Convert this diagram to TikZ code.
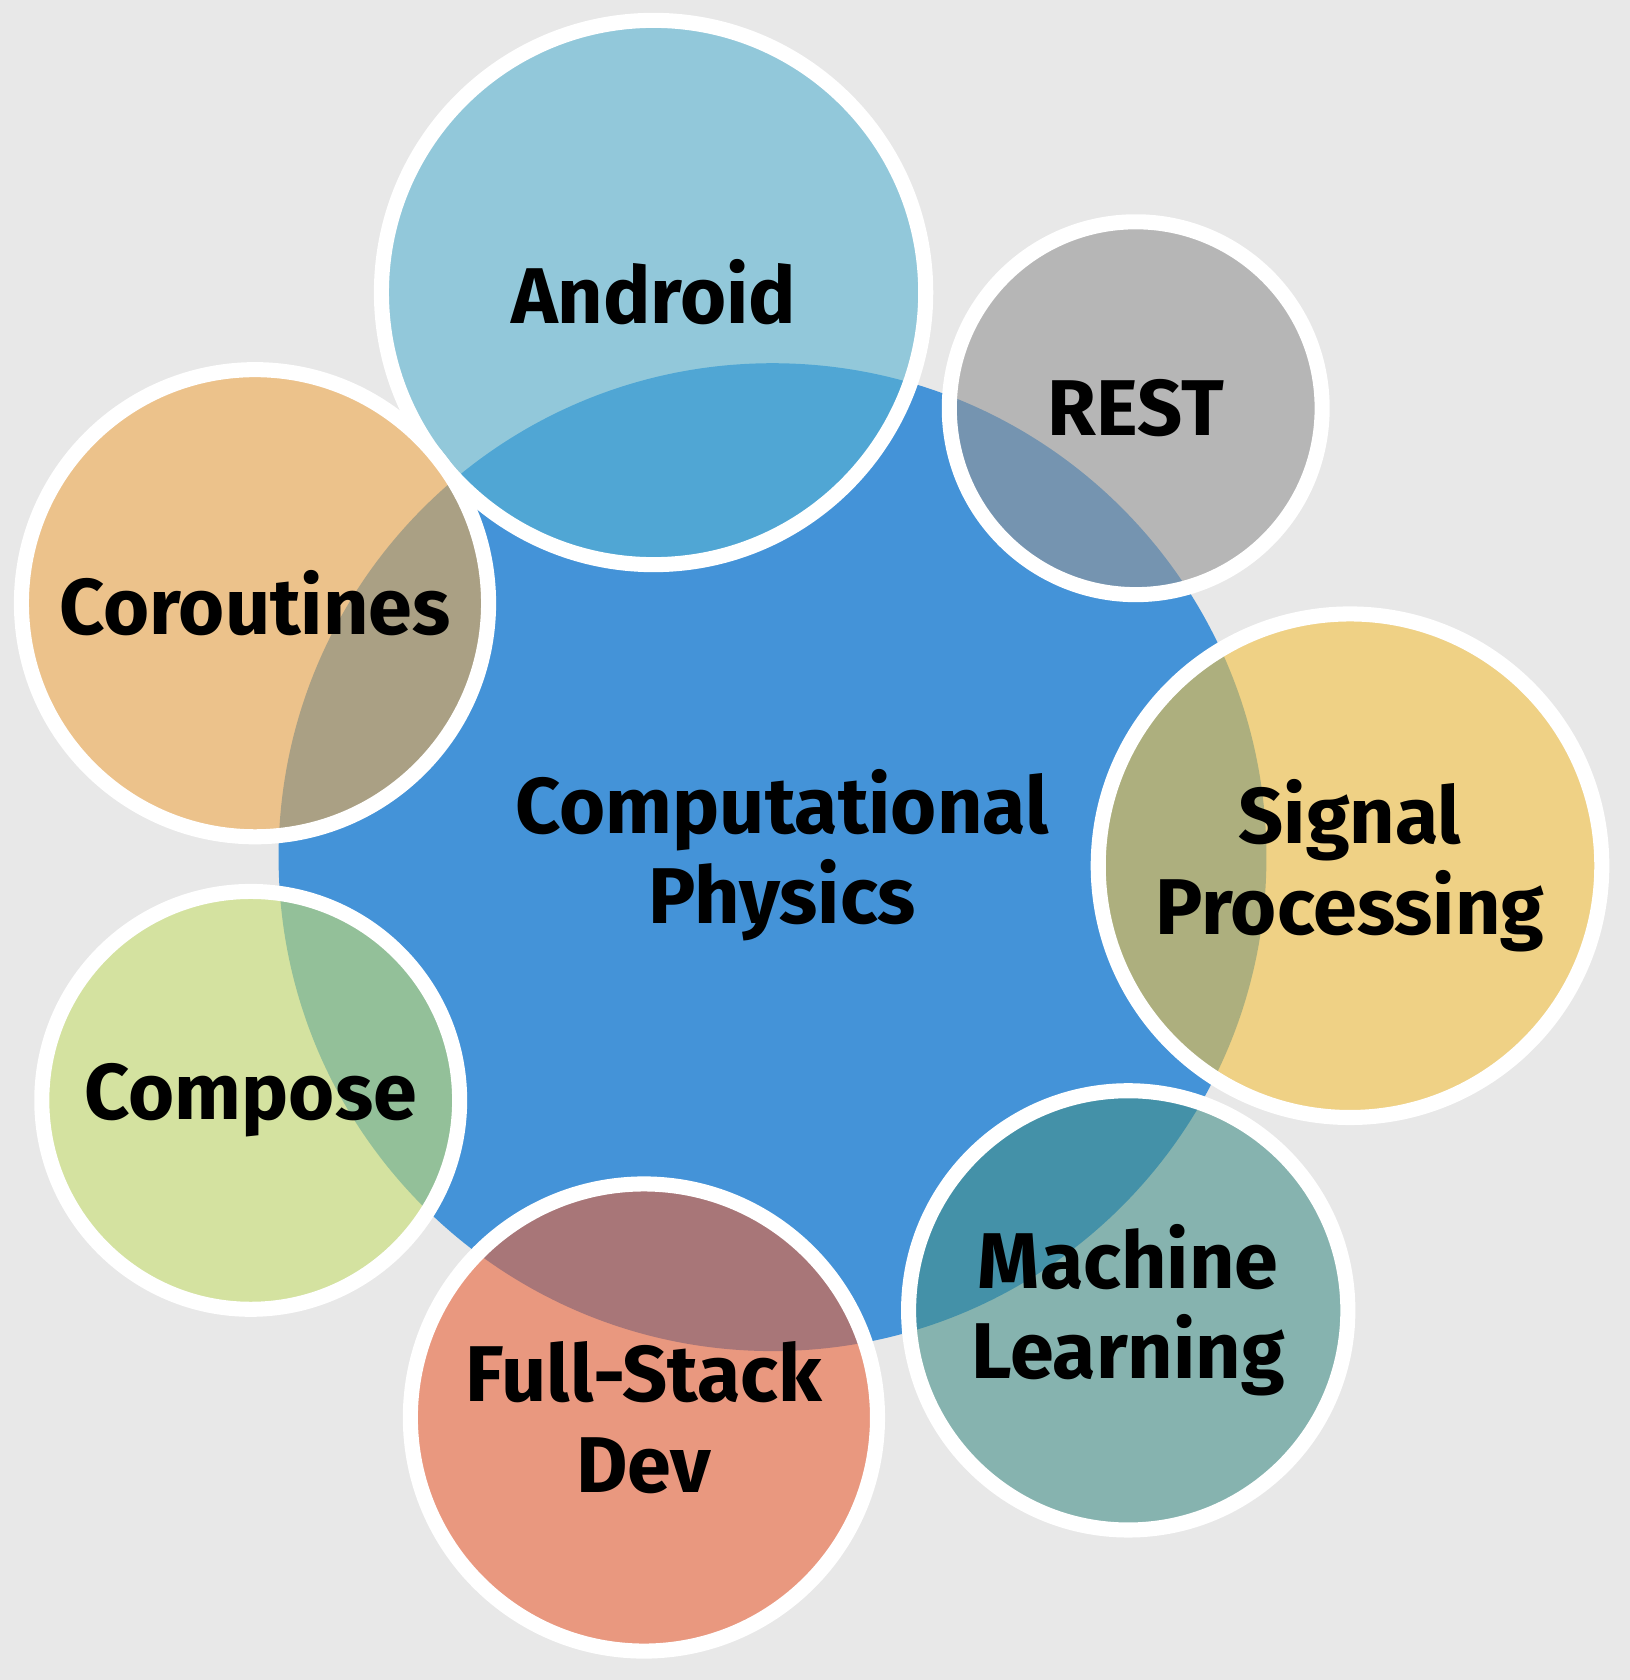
\documentclass[tikz,border=0pt]{standalone}
\usepackage{fontspec}
\setmainfont{Fira Sans}
\usepackage{tikz}
\usetikzlibrary{positioning}

\definecolor{backgray}{RGB}{232,232,232}
\definecolor{corecol}{RGB}{68,147,216}
\definecolor{androidcol}{RGB}{89,180,210}
\definecolor{restcol}{RGB}{150,150,150}
\definecolor{signalcol}{RGB}{244,195,67}
\definecolor{mlearncol}{RGB}{69,145,137}
\definecolor{fullstackcol}{RGB}{235,99,57}
\definecolor{composecol}{RGB}{200,222,112}
\definecolor{coroutinescol}{RGB}{239,169,77}

\begin{document}
\begin{tikzpicture}[
    bubble/.style={circle, inner sep=0pt, draw=white, line width=4pt,
      fill opacity=0.6, text opacity=1, align=center,
      font=\bfseries\fontsize{21}{24}\selectfont},
    tag/.style={align=center, font=\bfseries\fontsize{21}{24}\selectfont}]
	  % Background and frame
	  \fill[backgray] (0,0) rectangle (15.21,-15.68);
	  \useasboundingbox (0,0) rectangle (15.21,-15.68);
	  % Central topic
	  \node (core) [circle, inner sep=0pt, fill=corecol, minimum size=9.22cm] at (7.21,-8.00) {};
	  \node (coretag) [tag] at (7.30,-7.98) {Computational\\Physics};
	  % Surrounding topics
	  \node (android) [bubble, fill=androidcol, minimum size=5.08cm] at (6.10,-2.73) {Android};
	  \node (rest) [bubble, fill=restcol, minimum size=3.48cm] at (10.60,-3.81) {REST};
	  \node (signal) [bubble, fill=signalcol, minimum size=4.70cm] at (12.60,-8.08) {Signal\\Processing};
	  \node (mlearn) [bubble, fill=mlearncol, minimum size=4.10cm] at (10.53,-12.23) {Machine\\Learning};
	  \node (fullstack) [bubble, fill=fullstackcol, minimum size=4.36cm] at (6.01,-13.23) {Full-Stack\\Dev};
	  \node (compose) [bubble, fill=composecol, minimum size=3.90cm] at (2.34,-10.27) {Compose};
	  \node (coroutines) [bubble, fill=coroutinescol, minimum size=4.36cm] at (2.38,-5.63) {Coroutines};
      \end{tikzpicture}
\end{document}
